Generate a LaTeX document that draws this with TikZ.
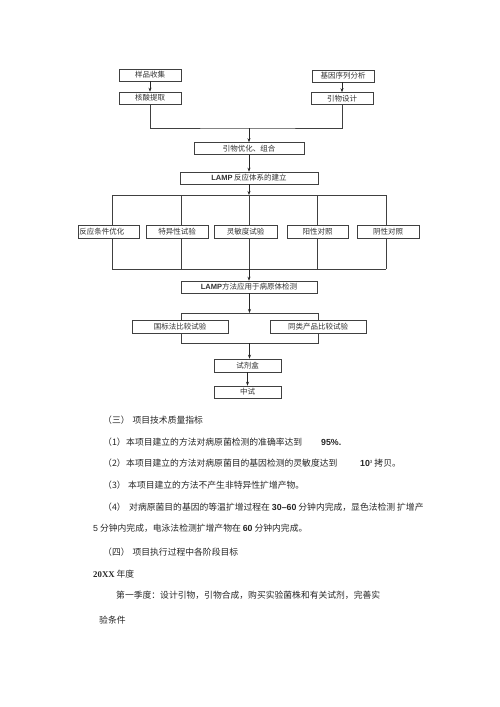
\documentclass[tikz,border=0pt]{standalone}
\usepackage{fontspec}
\setmainfont{Noto Sans CJK SC}
\newfontfamily\latsans{Liberation Sans}
\newfontfamily\latserif{Liberation Serif}
\usetikzlibrary{arrows.meta,backgrounds}
\begin{document}
\begin{tikzpicture}[x=1pt,y=-1pt,
 box/.style={draw=black!75, line width=0.6pt, fill=white, inner sep=0pt, minimum height=12pt, font=\fontsize{7.5}{9}\selectfont, text=black!80},
 arr/.style={-{Stealth[length=4pt,width=3pt]}, line width=0.6pt, draw=black!85},
 ln/.style={line width=0.6pt, draw=black!75},
 body/.style={anchor=west, inner sep=0pt, font=\fontsize{8.8}{10}\selectfont, text=black!85}]
\useasboundingbox (0,0) rectangle (500,707);
% top boxes
\node[box, minimum width=62pt] (b1) at (150,75) {样品收集};
\node[box, minimum width=62pt] (b2) at (150,98) {核酸提取};
\node[box, minimum width=62pt] (b3) at (343,76) {基因序列分析};
\node[box, minimum width=62pt] (b4) at (342,98.5) {引物设计};
\node[box, minimum width=110pt] (b5) at (249,148.5) {引物优化、组合};
\node[box, minimum width=138pt] (b6) at (249,178) {{\latsans\bfseries LAMP} 反应体系的建立};
% row
\node[box, minimum height=13pt, minimum width=61pt, anchor=west, text width=59pt, inner xsep=1pt, align=left] (r1) at (78,232) {反应条件优化};
\node[box, minimum height=13pt, minimum width=62pt] (r2) at (177,232) {特异性试验\hspace{8pt}};
\node[box, minimum height=13pt, minimum width=63pt] (r3) at (245.5,232) {灵敏度试验\hspace{5pt}};
\node[box, minimum height=13pt, minimum width=61pt] (r4) at (317.5,232) {阳性对照};
\node[box, minimum height=13pt, minimum width=62pt] (r5) at (388,232) {阴性对照};
\node[box, minimum width=136pt] (b7) at (249,287) {{\latsans\bfseries LAMP}方法应用于病原体检测};
\node[box, minimum height=13pt, minimum width=96pt] (c1) at (180,326.5) {国标法比较试验};
\node[box, minimum height=13pt, minimum width=96pt] (c2) at (318,326.5) {同类产品比较试验};
\node[box, minimum height=13pt, minimum width=67pt] (d1) at (247.5,365.5) {试剂盒};
\node[box, minimum width=67pt] (d2) at (247.5,392) {中试};
% coordinates
\coordinate (m1) at (249,128);
\coordinate (t1) at (249,195);
\coordinate (u1) at (112,195);
\coordinate (u5) at (386,195);
\coordinate (v1) at (112,269);
\coordinate (v3) at (249,269);
\coordinate (v5) at (386,269);
\coordinate (p1) at (249.5,313);
\coordinate (pl) at (181,313);
\coordinate (pr) at (318,313);
\coordinate (ql) at (181,343);
\coordinate (qr) at (318,343);
\coordinate (q1) at (249.5,343);
\begin{pgfonlayer}{background}
\draw[ln] (u1) -- (u5);
\draw[ln] (v1) -- (v5);
\draw[ln] (u1) -- (v1);
\draw[ln] (181,195) -- (181,269);
\draw[ln] (t1) -- (v3);
\draw[ln] (317,195) -- (317,269);
\draw[ln] (u5) -- (v5);
\draw[ln] (pl) -- (pr) -- (qr) -- (ql) -- cycle;
\end{pgfonlayer}
% connectors
\draw[arr] (b1.south) -- (b2.north);
\draw[arr] (b3.south -| b4.north) -- (b4.north);
\draw[ln] (b2.south) |- (m1) -| (b4.south);
\draw[arr] (m1) -- (b5.north);
\draw[arr] (b5.south) -- (b6.north);
\draw[arr] (b6.south) -- (t1);
\draw[arr] (v3) -- (b7.north);
\draw[arr] (b7.south -| p1) -- (p1);
\draw[arr] (q1) -- (d1.north -| q1);
\draw[arr] (d1.south) -- (d2.north);
% body text
\node[body] (s3) at (103,420) {（三）\hspace{3pt}项目技术质量指标};
\node[body] (l1) at (103,442) {（1）};
\node[body] (l1a) at (126,442) {本项目建立的方法对病原菌检测的准确率达到};
\node[body] (l1b) at (321,442) {\latsans\bfseries 95\%.};
\node[body] (l2) at (103,463) {（2）};
\node[body] (l2a) at (126,463) {本项目建立的方法对病原菌目的基因检测的灵敏度达到};
\node[body] (l2b) at (360,463) {{\latsans\bfseries 10}\raisebox{3pt}{\fontsize{4.5}{5}\selectfont\latsans 3}\hspace{2pt}拷贝。};
\node[body] (l3) at (103,485) {（3）};
\node[body] (l3a) at (128,485) {本项目建立的方法不产生非特异性扩增产物。};
\node[body] (l4) at (103,507) {（4）};
\node[body] (l4a) at (129,507) {对病原菌目的基因的等温扩增过程在 {\latsans\bfseries 30–60} 分钟内完成，显色法检测 扩增产};
\node[body] (l5) at (93,528) {{\latsans 5} 分钟内完成，电泳法检测扩增产物在 {\latsans\bfseries 60} 分钟内完成。};
\node[body] (s4) at (103,552) {（四）\hspace{3pt}项目执行过程中各阶段目标};
\node[body] (yr) at (93,574) {{\latserif\bfseries 20XX} 年度};
\node[body] (q1t) at (116,595) {第一季度：设计引物，引物合成，购买实验菌株和有关试剂，完善实};
\node[body] (q1u) at (99,620) {验条件};
\end{tikzpicture}
\end{document}
